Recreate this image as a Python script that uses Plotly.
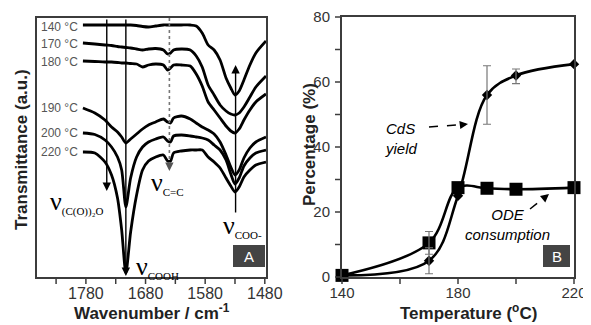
import plotly.graph_objects as go

# page body has an 8px margin, so the figure is drawn 8px smaller and offset
OFF = 8
W, H = 591 - OFF, 325 - OFF

# ---------------- Panel A data (FTIR spectra, a.u.) ----------------
wavenumber = [1785, 1765, 1748, 1737, 1727, 1720, 1713, 1705, 1695, 1685, 1675, 1663, 1650,
              1643, 1638, 1633, 1620, 1605, 1595, 1585, 1575, 1565, 1555, 1545, 1537, 1530,
              1523, 1515, 1505, 1495, 1478]
spectrum_labels = ["140 °C", "170 °C", "180 °C", "190 °C", "200 °C", "220 °C"]
t140 = [252, 252, 252, 252, 252, 252, 252, 252, 251.5, 250.5, 250, 251, 252, 252, 252, 252,
        252, 252, 251, 244, 232, 227, 217, 199, 189, 182, 186, 197, 212, 224, 236]
t170 = [234, 233, 232, 231.5, 230.5, 230, 229.5, 229, 228, 227, 228, 228.5, 227, 223, 224, 227,
        228, 227, 221, 210, 192, 182, 172, 166, 163, 162, 164, 170, 180, 190, 201]
t180 = [216, 215.5, 215, 215, 214.5, 214, 214, 213.5, 213, 210, 212, 213, 212, 207, 209, 212,
        212, 211, 203, 191, 175, 167, 159, 151, 146, 144, 148, 157, 167, 175, 183]
t190 = [169, 164, 157, 150, 145, 140, 134, 138, 143, 148, 152, 155, 158, 155, 154, 159, 161,
        158, 154, 150, 147, 143, 135, 122, 110, 102, 107, 119, 129, 135, 140]
t200 = [144, 142.5, 137, 130, 120, 107, 70, 99, 120, 130, 135, 138, 140, 136, 135, 141, 142,
        141, 140, 139, 137, 132, 127, 117, 103, 93, 99, 111, 119, 124, 127]
t220 = [125, 124, 115, 102, 79, 47, 4, 45, 82, 107, 116, 120, 122, 116, 116, 124, 126, 127,
        127, 127, 120, 115, 109, 99, 91, 85, 90, 100, 107, 112, 115]
spectra = [t140, t170, t180, t190, t200, t220]
wn_ticks = [1830, 1780, 1730, 1680, 1630, 1580, 1530, 1480]
wn_ticktext = ["", "1780", "", "1680", "", "1580", "", "1480"]

# ---------------- Panel B data ----------------
temperature = [140, 170, 180, 190, 200, 220]
cds_yield = [0.5, 5, 25, 56, 62, 65.5]
cds_err_plus = [0, 4, 0, 9, 2, 0]
cds_err_minus = [0, 4, 0, 9, 2.5, 0]
ode_consumption = [0.5, 10.5, 27.5, 27.3, 27, 27.5]
ode_err = [0, 3.5, 0, 0, 0, 0]
t_ticks = [140, 160, 180, 200, 220]
t_ticktext = ["140", "", "180", "", "220"]
p_ticks = [0, 10, 20, 30, 40, 50, 60, 70, 80]
p_ticktext = ["0", "", "20", "", "40", "", "60", "", "80"]

AX = "rgb(60,60,60)"


def px2x(px):
    return (px - OFF) / W


def py2y(py):
    return 1 - (py - OFF) / H


XA_DOM, XA_RANGE = [px2x(37), px2x(266)], [1862, 1478]
YA_DOM, YA_RANGE = [py2y(277), py2y(18)], [0, 259]
XB_DOM, XB_RANGE = [px2x(342), px2x(574)], [140, 220]
YB_DOM, YB_RANGE = [py2y(277), py2y(17)], [0, 80]


def to_paper(v, dom, rng):
    return dom[0] + (v - rng[0]) / (rng[1] - rng[0]) * (dom[1] - dom[0])


fig = go.Figure()

for lab, ys in zip(spectrum_labels, spectra):
    fig.add_trace(go.Scatter(x=wavenumber, y=ys, mode="lines", name=lab,
                             line=dict(color="black", width=2.8, shape="spline", smoothing=0.7),
                             xaxis="x", yaxis="y", showlegend=False))

fig.add_trace(go.Scatter(x=temperature, y=cds_yield, mode="lines+markers", name="CdS yield",
                         line=dict(color="black", width=2.6, shape="spline", smoothing=1.0),
                         marker=dict(symbol="diamond", size=8, color="black"),
                         xaxis="x2", yaxis="y2", showlegend=False, cliponaxis=False))
fig.add_trace(go.Scatter(x=temperature, y=ode_consumption, mode="lines+markers", name="ODE consumption",
                         line=dict(color="black", width=2.6, shape="spline", smoothing=1.0),
                         marker=dict(symbol="square", size=13, color="black"),
                         xaxis="x2", yaxis="y2", showlegend=False, cliponaxis=False))
ei = [i for i in range(len(temperature)) if cds_err_plus[i] > 0]
fig.add_trace(go.Scatter(x=[temperature[i] for i in ei], y=[cds_yield[i] for i in ei], mode="markers",
                         marker=dict(size=1, color="rgba(0,0,0,0)"),
                         error_y=dict(type="data", array=[cds_err_plus[i] for i in ei],
                                      arrayminus=[cds_err_minus[i] for i in ei],
                                      color="#777777", thickness=1.2, width=4),
                         xaxis="x2", yaxis="y2", showlegend=False, hoverinfo="skip"))
oi = [i for i in range(len(temperature)) if ode_err[i] > 0]
fig.add_trace(go.Scatter(x=[temperature[i] for i in oi], y=[ode_consumption[i] for i in oi], mode="markers",
                         marker=dict(size=1, color="rgba(0,0,0,0)"),
                         error_y=dict(type="data", array=[ode_err[i] for i in oi],
                                      color="#777777", thickness=1.2, width=4),
                         xaxis="x2", yaxis="y2", showlegend=False, hoverinfo="skip"))

ann = []
shapes = []


def bar(x0, x1, y0, y1):
    # filled thin rectangle in paper coords (frame edges / tick marks)
    shapes.append(dict(type="rect", xref="paper", yref="paper", x0=x0, x1=x1, y0=y0, y1=y1,
                       fillcolor=AX, line=dict(width=0), layer="above"))


px1, py1 = 1 / W, 1 / H
for xd, yd in [(XA_DOM, YA_DOM), (XB_DOM, YB_DOM)]:
    bar(xd[0] - 2 * px1, xd[1] + 2 * px1, yd[0] - 2 * py1, yd[0])   # bottom
    bar(xd[0] - 2 * px1, xd[1] + 2 * px1, yd[1], yd[1] + 2 * py1)   # top
    bar(xd[0] - 2 * px1, xd[0], yd[0] - 2 * py1, yd[1] + 2 * py1)   # left
    bar(xd[1], xd[1] + 2 * px1, yd[0] - 2 * py1, yd[1] + 2 * py1)   # right
for v in wn_ticks:
    xp = to_paper(v, XA_DOM, XA_RANGE)
    bar(xp - 0.75 * px1, xp + 0.75 * px1, YA_DOM[0] - 7 * py1, YA_DOM[0])
for v in t_ticks:
    xp = to_paper(v, XB_DOM, XB_RANGE)
    bar(xp - 0.75 * px1, xp + 0.75 * px1, YB_DOM[0] - 7 * py1, YB_DOM[0])
for v in p_ticks:
    yp = to_paper(v, YB_DOM, YB_RANGE)
    bar(XB_DOM[0] - 7 * px1, XB_DOM[0], yp - 0.75 * py1, yp + 0.75 * py1)

label_py = [27, 44, 62, 108, 133, 152]
for lab, py in zip(spectrum_labels, label_py):
    ann.append(dict(x=px2x(80), y=py2y(py), xref="paper", yref="paper", text=lab,
                    showarrow=False, xanchor="right", yanchor="middle",
                    font=dict(family="Liberation Sans", size=12, color="#555555")))

ann.append(dict(x=1745, y=86, ax=1745, ay=259, xref="x", yref="y", axref="x", ayref="y",
                text="", showarrow=True, arrowhead=2, arrowsize=1.2, arrowwidth=1.4, arrowcolor="black"))
ann.append(dict(x=1713, y=1, ax=1713, ay=259, xref="x", yref="y", axref="x", ayref="y",
                text="", showarrow=True, arrowhead=2, arrowsize=1.2, arrowwidth=1.4, arrowcolor="black"))
ann.append(dict(x=1529, y=212, ax=1529, ay=63, xref="x", yref="y", axref="x", ayref="y",
                text="", showarrow=True, arrowhead=2, arrowsize=1.2, arrowwidth=1.4, arrowcolor="black"))
shapes.append(dict(type="line", xref="x", yref="y", x0=1640, x1=1640, y0=259, y1=112,
                   line=dict(color="#777777", width=1.6, dash="dot")))
ann.append(dict(x=1640, y=106, ax=0, ay=-8, xref="x", yref="y",
                text="", showarrow=True, arrowhead=2, arrowsize=1.2, arrowwidth=1.4, arrowcolor="#555555"))

serif = "Liberation Serif"


def nu(sub):
    return "ν<sub><span style='font-size:11px'>" + sub + "</span></sub>"


for txt, x, y in [("(C(O))₂O", 48, 202), ("COOH", 134, 267), ("C=C", 149, 183), ("COO-", 221, 226)]:
    ann.append(dict(x=px2x(x), y=py2y(y), xref="paper", yref="paper", text=nu(txt),
                    showarrow=False, xanchor="left", yanchor="middle",
                    font=dict(family=serif, size=26, color="black")))

for (x0, x1, letter) in [(233, 265, "A"), (543, 570, "B")]:
    shapes.append(dict(type="rect", xref="paper", yref="paper", x0=px2x(x0), x1=px2x(x1),
                       y0=py2y(267), y1=py2y(245), fillcolor="#444444", line=dict(width=0)))
    ann.append(dict(x=px2x((x0 + x1) / 2), y=py2y(256), xref="paper", yref="paper", text=letter,
                    showarrow=False, xanchor="center", yanchor="middle",
                    font=dict(family="Liberation Sans", size=15, color="white")))

ann.append(dict(x=px2x(383), y=py2y(138), xref="paper", yref="paper", text="<i>CdS<br>yield</i>",
                showarrow=False, align="left", xanchor="left", yanchor="middle",
                font=dict(family="Liberation Sans", size=15, color="black")))
ann.append(dict(x=px2x(507), y=py2y(224), xref="paper", yref="paper", text="<i>ODE<br>consumption</i>",
                showarrow=False, align="center", xanchor="center", yanchor="middle",
                font=dict(family="Liberation Sans", size=15, color="black")))
shapes.append(dict(type="line", xref="paper", yref="paper", x0=px2x(429), y0=py2y(127),
                   x1=px2x(462), y1=py2y(124.5), line=dict(color="black", width=1.5, dash="dash")))
ann.append(dict(x=px2x(468), y=py2y(124), xref="paper", yref="paper", ax=-8, ay=1,
                text="", showarrow=True, arrowhead=2, arrowsize=1.1, arrowwidth=1.5, arrowcolor="black"))
shapes.append(dict(type="line", xref="paper", yref="paper", x0=px2x(530), y0=py2y(209),
                   x1=px2x(544), y1=py2y(198), line=dict(color="black", width=1.5, dash="dash")))
ann.append(dict(x=px2x(549), y=py2y(194), xref="paper", yref="paper", ax=-6, ay=5,
                text="", showarrow=True, arrowhead=2, arrowsize=1.1, arrowwidth=1.5, arrowcolor="black"))

bold = "Liberation Sans"
for txt, x, y, ang in [("<b>Transmittance (a.u.)</b>", 21, 150, -90),
                       ("<b>Wavenumber / cm<sup>-1</sup></b>", 152, 312, 0),
                       ("<b>Percentage (%)</b>", 309, 145, -90),
                       ("<b>Temperature (<sup>o</sup>C)</b>", 468, 312, 0)]:
    ann.append(dict(x=px2x(x), y=py2y(y), xref="paper", yref="paper", text=txt, textangle=ang,
                    showarrow=False, xanchor="center", yanchor="middle",
                    font=dict(family=bold, size=17, color="#222222")))


def axis(**kw):
    d = dict(showgrid=False, zeroline=False, showline=True, linecolor=AX, linewidth=2, mirror=True,
             ticks="", tickfont=dict(family="Liberation Sans", size=15, color="#333333"),
             automargin=False)
    d.update(kw)
    return d


fig.update_layout(
    width=W, height=H, margin=dict(l=0, r=0, t=0, b=0, pad=0, autoexpand=False),
    paper_bgcolor="white", plot_bgcolor="white",
    xaxis=axis(domain=XA_DOM, range=XA_RANGE, anchor="y",
               tickvals=wn_ticks, ticktext=wn_ticktext, ticklabelstandoff=1,
               tickfont=dict(family="Liberation Sans", size=16, color="#333333")),
    yaxis=axis(domain=YA_DOM, range=YA_RANGE, anchor="x", showticklabels=False),
    xaxis2=axis(domain=XB_DOM, range=XB_RANGE, anchor="y2",
                tickvals=t_ticks, ticktext=t_ticktext, ticklabelstandoff=1),
    yaxis2=axis(domain=YB_DOM, range=YB_RANGE, anchor="x2",
                tickvals=p_ticks, ticktext=p_ticktext, ticklabelstandoff=7),
    annotations=ann, shapes=shapes,
)

fig.write_html("out.html")
